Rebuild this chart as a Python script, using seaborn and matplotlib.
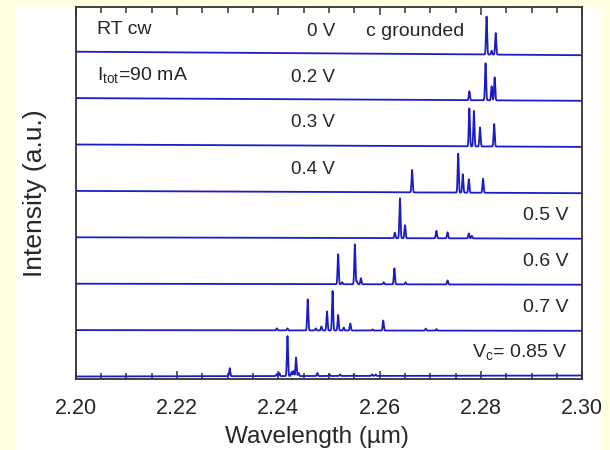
import numpy as np
import pandas as pd
import matplotlib
matplotlib.use("Agg")
import matplotlib.pyplot as plt
from matplotlib.patches import Rectangle
from matplotlib.ticker import MultipleLocator
import seaborn as sns

# ---------------- data ----------------
voltages = ["0 V", "0.2 V", "0.3 V", "0.4 V", "0.5 V", "0.6 V", "0.7 V", "0.85 V"]

peaks_0V = [2.2811, 2.2821, 2.2829]
heights_0V = [38, 4, 21.5]
peaks_02V = [2.2777, 2.2809, 2.2821, 2.2827]
heights_02V = [9, 37, 14, 23]
peaks_03V = [2.2777, 2.2786, 2.2798, 2.2826]
heights_03V = [38, 35.5, 19, 22.5]
peaks_04V = [2.2664, 2.2755, 2.2764, 2.2776, 2.2804]
heights_04V = [22.5, 39, 18.5, 13.5, 14]
peaks_05V = [2.2630, 2.2640, 2.2650, 2.2712, 2.2734, 2.2776, 2.2782]
heights_05V = [5.5, 40, 13, 7.5, 6, 5, 2.5]
peaks_06V = [2.2518, 2.2526, 2.2551, 2.2555, 2.2563, 2.2608, 2.2629, 2.2651, 2.2734]
heights_06V = [30, 2, 40, 3, 6, 2, 16, 2, 4]
peaks_07V = [2.2397, 2.2418, 2.2458, 2.2474, 2.2485, 2.2496, 2.2507, 2.2518,
             2.2529, 2.2542, 2.2586, 2.2607, 2.2691, 2.2712]
heights_07V = [2, 2, 31, 2, 4, 19, 39.5, 15.5, 3, 7, 1, 10, 2, 1.5]
peaks_085V = [2.2304, 2.2397, 2.2402, 2.2418, 2.2426, 2.2430, 2.2435, 2.2440,
              2.2477, 2.2501, 2.2522, 2.2549, 2.2585, 2.2592]
heights_085V = [8, 2, 3, 40, 4, 5, 18.5, 3, 3, 1.5, 1.5, 1, 1.5, 1.5]

baseline_drift = [-3.5, -2.7, -2.4, -2.3, -1.4, -1.0, -0.7, 1.0]

xticks = [2.20, 2.22, 2.24, 2.26, 2.28, 2.30]
xtick_labels = ["2.20", "2.22", "2.24", "2.26", "2.28", "2.30"]

peak_sets = [
    (peaks_0V, heights_0V), (peaks_02V, heights_02V), (peaks_03V, heights_03V),
    (peaks_04V, heights_04V), (peaks_05V, heights_05V), (peaks_06V, heights_06V),
    (peaks_07V, heights_07V), (peaks_085V, heights_085V),
]

# ---------------- build spectra ----------------
wl = np.linspace(2.20, 2.30, 5001)
width = 0.00011
spacing = 46.4
frames = []
n = len(voltages)
for i, (v, (pk, hts)) in enumerate(zip(voltages, peak_sets)):
    offset = 2.5 + spacing * (n - 1 - i)
    y = offset + baseline_drift[i] * (wl - 2.20) / 0.10
    for c, h in zip(pk, hts):
        y = y + h * np.exp(-0.5 * ((wl - c) / width) ** 2)
    frames.append(pd.DataFrame({"Wavelength": wl, "Intensity": y, "Voltage": v}))
df = pd.concat(frames, ignore_index=True)

# ---------------- plot ----------------
sns.set_theme(style="white")
plt.rcParams["font.family"] = ["Liberation Sans", "DejaVu Sans"]
plt.rcParams["mathtext.default"] = "regular"

fig = plt.figure(figsize=(6.1, 4.5), dpi=100)
fig.patch.set_facecolor("#FFFFE2")
fig.patches.append(Rectangle((16 / 610, 0), 586 / 610, 443 / 450,
                             transform=fig.transFigure, facecolor="white",
                             edgecolor="none", zorder=-10))

ax = fig.add_axes([75.7 / 610, 71 / 450, 506.6 / 610, 372 / 450])
ax.set_zorder(5)
ax.set_facecolor("white")

sns.lineplot(data=df, x="Wavelength", y="Intensity", hue="Voltage",
             palette=["#1c1cc6"] * n, estimator=None, sort=False,
             linewidth=1.3, legend=False, ax=ax)

ax.set_xlim(2.20, 2.30)
ax.set_ylim(0, 372)
ax.set_yticks([])
ax.set_xticks(xticks)
ax.set_xticklabels(xtick_labels)
ax.xaxis.set_minor_locator(MultipleLocator(0.005))
ax.tick_params(axis="x", which="both", direction="in", top=True, bottom=True,
               color="#333333", labelsize=15.5, pad=14)
ax.tick_params(axis="x", which="major", length=6, width=1.1)
ax.tick_params(axis="x", which="minor", length=4, width=1.1)
for s in ax.spines.values():
    s.set_color("#333333")
    s.set_linewidth(1.3)

ax.set_xlabel("Wavelength (µm)", fontsize=17.5, labelpad=5)
ax.xaxis.label.set_x(0.476)
ax.set_ylabel("Intensity (a.u.)", fontsize=19, labelpad=21)


def px(xp, yp):
    return 2.20 + (xp - 75.7) / 5066.0, 379 - yp


fs = 14
ax.text(*px(97, 30), "RT cw", fontsize=fs, va="center", ha="left")
ax.text(*px(97, 75), "I$_{tot}$=90 mA", fontsize=fs, va="center", ha="left")
ax.text(*px(366, 31), "c grounded", fontsize=fs, va="center", ha="left")
left_labels = [("0 V", 31), ("0.2 V", 77.5), ("0.3 V", 122.5), ("0.4 V", 169)]
for t, yy in left_labels:
    ax.text(*px(335, yy), t, fontsize=13.5, va="center", ha="right")
right_labels = [("0.5 V", 216), ("0.6 V", 262), ("0.7 V", 307.5),
                ("V$_c$= 0.85 V", 352.5)]
for t, yy in right_labels:
    ax.text(*px(568, yy), t, fontsize=fs, va="center", ha="right")

fig.savefig("out.png", dpi=100, facecolor=fig.get_facecolor())
